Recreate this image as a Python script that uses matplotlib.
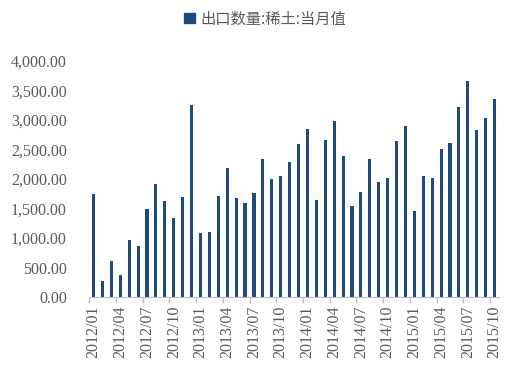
import matplotlib.pyplot as plt
import matplotlib.ticker as mticker
from matplotlib.patches import Patch

# 出口数量:稀土:当月值, 2012/01 - 2015/10
meses = [f"{a}/{m:02d}" for a in range(2012, 2016) for m in range(1, 13)][:46]
valores = [1740, 266, 610, 368, 961, 870, 1492, 1915, 1627, 1334, 1695, 3254,
           1080, 1097, 1712, 2192, 1673, 1598, 1768, 2344, 2000, 2051, 2296, 2588,
           2853, 1639, 2661, 2978, 2385, 1548, 1785, 2344, 1949, 2012, 2644, 2898,
           1453, 2046, 2022, 2509, 2615, 3220, 3661, 2825, 3034, 3351]

color = "#1f4a7c"
gris = "#595959"

plt.rcParams["font.family"] = ["Liberation Serif", "Noto Sans CJK SC", "DejaVu Sans"]

fig = plt.figure(figsize=(5.15, 3.76), dpi=100)
ax = fig.add_axes([0.173, 0.21, 0.796, 0.628])

x = list(range(len(valores)))
ax.bar(x, valores, width=0.35, color=color)

ax.set_xlim(-0.5, len(valores) - 0.5)
ax.set_ylim(0, 4000)
ax.yaxis.set_major_locator(mticker.MultipleLocator(500))
ax.yaxis.set_major_formatter(mticker.StrMethodFormatter("{x:,.2f}"))

# etiquetas cada 3 meses, marcas en los bordes de categoria
ax.set_xticks(x[::3])
ax.set_xticklabels(meses[::3], rotation=90)
ax.set_xticks([i - 0.5 for i in x[::3]], minor=True)
ax.tick_params(axis="x", which="major", length=0, pad=6, labelsize=11.5, labelcolor=gris)
ax.tick_params(axis="x", which="minor", length=4, color="#bfbfbf", width=1)
ax.tick_params(axis="y", length=0, pad=16, labelsize=11.5, labelcolor=gris)

for s in ["top", "right", "left"]:
    ax.spines[s].set_visible(False)
ax.spines["bottom"].set_color("#bfbfbf")

fig.legend(handles=[Patch(color=color, label="出口数量:稀土:当月值")],
           loc="center", bbox_to_anchor=(0.515, 0.95), frameon=False,
           handlelength=0.7, handleheight=0.7, handletextpad=0.4,
           prop={"family": ["Noto Sans CJK SC", "DejaVu Sans"], "size": 11},
           labelcolor=gris)

fig.savefig("out.png", dpi=100)
